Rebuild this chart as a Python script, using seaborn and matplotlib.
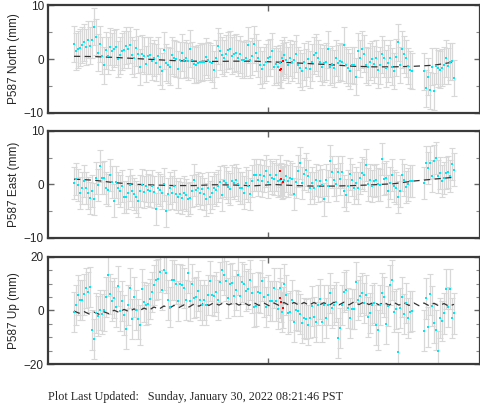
import numpy as np
import matplotlib
matplotlib.use("Agg")
import matplotlib.pyplot as plt
import seaborn as sns
from matplotlib.ticker import MultipleLocator

# observation epochs (days since first sample), gap near day 340-350
days = [0, 2, 4, 6, 8, 10, 12, 14, 16, 18,
        20, 22, 24, 26, 28, 30, 32, 34, 36, 38,
        40, 42, 44, 46, 48, 50, 52, 54, 56, 58,
        60, 62, 64, 66, 68, 70, 72, 74, 76, 78,
        80, 82, 84, 86, 88, 90, 92, 94, 96, 98,
        100, 102, 104, 106, 108, 110, 112, 114, 116, 118,
        120, 122, 124, 126, 128, 130, 132, 134, 136, 138,
        140, 142, 144, 146, 148, 150, 152, 154, 156, 158,
        160, 162, 164, 166, 168, 170, 172, 174, 176, 178,
        180, 182, 184, 186, 188, 190, 192, 194, 196, 198,
        200, 202, 204, 206, 208, 210, 212, 214, 216, 218,
        220, 222, 224, 226, 228, 230, 232, 234, 236, 238,
        240, 242, 244, 246, 248, 250, 252, 254, 256, 258,
        260, 262, 264, 266, 268, 270, 272, 274, 276, 278,
        280, 282, 284, 286, 288, 290, 292, 294, 296, 298,
        300, 302, 304, 306, 308, 310, 312, 314, 316, 318,
        320, 322, 324, 326, 328, 330, 332, 334, 336, 338,
        350, 352, 354, 356, 358, 360, 362, 364, 366, 368,
        370, 372, 374, 376, 378, 380]

north = [2.8, 1.4, 1.8, 2.1, 2.6, 3.1, 2.2, 3.6, 2.5, 3.6,
         6.0, 4.1, 1.2, 2.8, 0.6, -1.2, 1.6, 0.6, 2.3, 1.4,
         1.9, 2.2, 0.0, 0.7, 1.4, 1.7, 2.5, 1.8, 2.6, 0.7,
         0.1, 2.1, 0.9, -1.5, 1.0, 0.6, -0.9, 0.6, 0.7, -0.4,
         0.2, -0.7, 0.6, -1.4, -2.2, 1.6, -0.7, -1.1, -1.4, 0.7,
         0.2, 0.0, -1.9, -0.2, 1.2, -0.2, 0.1, -0.4, 1.9, -0.2,
         -1.0, -1.1, -0.8, -0.5, -0.6, -0.5, 0.4, -0.2, -0.5, -0.8,
         -2.0, 0.1, 2.4, 1.4, 0.7, 0.2, 1.0, 1.6, 1.8, 0.6,
         1.0, 1.2, 0.2, 0.9, -0.1, -0.2, 0.2, 2.6, -0.1, 0.5,
         2.7, 1.2, 0.1, -1.2, -1.9, -1.1, -0.6, 0.2, 0.3, 1.5,
         -1.4, -1.0, -1.4, -0.8, 0.2, 0.7, -0.2, -1.1, 0.2, -0.6,
         -0.1, 1.0, -1.1, -1.7, -2.3, -0.5, -1.6, 0.0, -1.9, -0.6,
         0.7, 1.2, 0.2, -0.6, -1.4, -0.8, -0.5, 1.8, -1.4, -1.0,
         -1.7, 0.2, -0.8, -0.4, -0.6, 2.6, -1.1, -1.6, -2.2, -1.1,
         -1.2, -3.3, 1.4, 0.1, 1.8, 1.0, -1.1, -1.4, -0.5, 0.0,
         -1.0, 0.1, -2.0, -1.2, 0.9, 0.1, -1.7, -0.8, 0.1, -1.4,
         -2.2, 0.3, 3.1, -1.1, 1.8, 0.9, 0.1, -1.3, -2.0, -2.2,
         -2.3, -5.4, -3.3, -5.8, -1.4, -6.0, -1.3, -1.7, -2.0, -1.6,
         -1.2, 0.1, -1.3, -0.5, -0.4, -3.5]

east = [0.2, 1.0, -0.1, -1.6, -0.7, 0.7, -0.6, -1.6, -2.5, -1.2,
        -2.7, 1.2, -0.1, 3.4, 1.2, 1.3, -0.7, -1.1, 1.7, 0.5,
        -3.0, 0.5, -0.6, -1.2, -0.3, -2.3, -2.3, -1.5, -0.1, -1.3,
        -1.8, -2.3, -3.1, -1.2, -0.1, -1.4, -0.3, -1.1, -1.2, -0.3,
        -1.4, -4.5, -0.7, -1.1, -1.5, 0.0, -5.0, -1.8, -0.6, -1.5,
        -0.3, -1.8, -2.3, -1.8, -2.5, -1.5, -2.0, -2.8, -2.5, -1.2,
        0.9, -1.1, -0.6, -1.5, -0.9, -1.7, -2.8, -0.7, -2.3, -1.5,
        -0.6, -1.1, -0.2, 0.5, -2.0, 0.7, 0.2, -0.5, -0.9, 0.7,
        0.2, 0.8, 0.0, -0.6, -0.7, -1.5, 0.2, -0.3, -1.7, 0.7,
        1.7, 1.8, 0.8, 1.7, 0.7, 1.6, 2.5, 0.5, 1.7, 1.3,
        1.0, 1.7, 0.7, 0.8, 0.2, 0.8, 1.6, 0.7, 1.3, 1.0,
        -1.7, 0.5, 2.5, 4.0, 0.2, 2.0, 2.8, 1.6, -0.6, 0.2,
        -0.7, 0.8, -0.3, 0.7, -0.1, -2.8, 0.8, -0.3, 4.4, 2.4,
        0.8, 0.0, 2.4, 1.1, 2.3, -1.2, -2.0, -0.3, 1.9, 0.8,
        -0.7, 0.2, -0.7, 1.2, 2.1, 1.7, 3.6, 0.0, 0.8, -0.3,
        0.7, 0.9, 0.0, -0.1, 4.7, 1.0, 1.3, -1.2, 0.2, 1.7,
        -0.3, -0.7, -2.3, -1.3, 1.7, 0.8, -0.5, 0.0, 0.7, 0.7,
        0.2, 4.1, 3.0, 4.1, 1.6, 4.3, 5.0, 1.5, 2.2, 0.7,
        1.2, 2.2, 2.3, 1.6, 3.9, 2.8]

up = [-0.6, 1.9, 5.7, 4.0, 4.0, 6.0, 8.4, 6.9, 8.8, -7.2,
      -10.5, -0.9, -2.2, 0.3, -1.4, 0.0, 5.0, 13.1, 6.3, 3.4,
      4.8, 1.3, 9.0, -0.2, 3.5, -1.8, -6.8, 2.2, 8.5, -3.1,
      5.0, 0.3, -3.1, -5.5, 7.9, 3.2, 1.9, 2.6, 4.4, 6.9,
      9.4, 11.3, 11.9, 14.4, 7.5, 15.3, 14.0, 3.8, 1.3, 11.5,
      11.5, 9.8, 3.4, 9.8, 9.4, 8.4, 3.8, 14.0, 3.4, 10.0,
      4.8, 5.0, 7.2, 4.0, 1.9, 4.0, 2.2, 5.7, 10.9, 5.9,
      5.3, 6.9, 4.0, 10.7, 15.3, 13.4, 10.9, 4.8, 9.8, 10.3,
      5.3, 7.8, 13.4, 5.3, 10.7, 9.9, 7.4, 7.9, 11.4, 6.4,
      1.4, 1.7, 7.0, 6.7, 11.2, 5.2, 1.2, 5.8, 3.7, 3.7,
      8.3, 3.7, 0.6, 8.3, -0.5, 9.8, 5.8, -1.1, -0.4, 3.9,
      -4.2, 0.2, -0.2, -1.4, -4.8, -2.7, -3.3, -5.4, -2.9, 1.7,
      -2.3, -4.2, 2.1, 4.2, -4.2, 2.1, -2.9, 2.1, 6.4, 0.8,
      2.1, 3.3, -10.2, -6.4, 2.1, 7.0, 7.7, 0.8, -2.7, 0.4,
      0.4, 10.5, 3.9, 5.4, 6.4, 2.7, 5.8, -2.3, -0.8, 2.1,
      2.9, -5.4, -7.3, 2.1, 6.4, 5.2, -5.0, 1.7, 9.5, 11.4,
      -0.4, 0.4, -15.6, 0.8, 5.2, -1.3, 2.7, -2.7, -0.4, -0.2,
      -7.5, 4.5, -6.3, 6.0, 1.7, -4.8, -7.3, -15.1, -2.9, -3.8,
      -1.1, 7.9, 1.2, 7.9, -2.7, -1.1]

# rapid / flagged solutions shown in red
red_days = [206, 207, 209]
north_red = [-2.0, -1.9, -0.4]
east_red = [2.6, 1.0, 0.5]
up_red = [4.8, 3.1, 1.1]

# one-sigma uncertainties (mm)
north_err = 3.4
east_err = 3.0
up_err = 7.5

# model fits
model_days = [0, 20, 40, 60, 80, 100, 120, 140, 160, 180,
              200, 220, 240, 260, 280, 300, 320, 340, 360, 380]
north_model = [0.5, 0.45, 0.3, 0.1, -0.1, -0.3, -0.4, -0.45, -0.4, -0.4,
               -0.55, -0.7, -0.9, -1.1, -1.35, -1.45, -1.45, -1.35, -1.15, -0.55]
east_model = [1.0, 0.8, 0.35, 0.05, -0.1, -0.2, -0.2, -0.05, -0.1, -0.25,
              0.0, -0.2, -0.3, -0.3, -0.2, -0.05, 0.15, 0.65, 1.0, 1.35]
up_model_days = [0, 5, 10, 15, 20, 25, 30, 35, 40, 45, 50, 55, 60, 65, 70, 75,
                 80, 85, 90, 95, 100, 105, 110, 115, 120, 125, 130, 135, 140, 145, 150, 155,
                 160, 165, 170, 175, 180, 185, 190, 195, 200, 205, 210, 215, 220, 225, 230, 235,
                 240, 245, 250, 255, 260, 265, 270, 275, 280, 285, 290, 295, 300, 305, 310, 315,
                 320, 325, 330, 335, 340, 345, 350, 355, 360, 365, 370, 375, 380]
up_model = [-0.2, -1.0, -0.4, -1.3, -0.6, -1.4, -0.5, -1.2,
            0.1, -0.7, 0.4, -0.4, 0.6, -0.2, 0.9, 0.1,
            1.3, 0.5, 1.7, 0.8, 1.9, 1.1, 2.1, 1.3,
            2.4, 1.6, 2.7, 1.9, 2.9, 2.0, 3.0, 2.1,
            3.0, 2.0, 2.9, 1.9, 2.9, 1.9, 2.8, 1.8,
            2.8, 1.9, 3.0, 2.0, 3.0, 2.0, 3.0, 2.0,
            3.0, 2.0, 2.9, 1.9, 3.1, 2.1, 3.1, 2.1,
            3.2, 2.2, 3.2, 2.2, 3.1, 2.1, 3.1, 2.0,
            3.0, 2.0, 2.9, 1.9, 2.8, 1.8, 2.8, 1.8,
            2.7, 1.7, 2.6, 1.6, 2.3]

panels = [
    ("P587 North (mm)", north, north_red, north_err, model_days, north_model, 10, 5),
    ("P587 East (mm)", east, east_red, east_err, model_days, east_model, 10, 5),
    ("P587 Up (mm)", up, up_red, up_err, up_model_days, up_model, 20, 5),
]

sns.set_style("ticks")
plt.rcParams['font.family'] = ['Liberation Sans', 'DejaVu Sans']

fig = plt.figure(figsize=(4.81, 4.04), dpi=100)
positions = [[0.0998, 0.7203, 0.898, 0.2673],
             [0.0998, 0.4109, 0.898, 0.2649],
             [0.0998, 0.0990, 0.898, 0.2649]]

for pos, (label, vals, red_vals, err, mdays, mvals, lim, minor) in zip(positions, panels):
    ax = fig.add_axes(pos)
    ax.errorbar(days, vals, yerr=err, fmt='none', ecolor='#d8d8d8', elinewidth=0.9,
                capsize=2, capthick=0.8, zorder=1)
    ax.errorbar(red_days, red_vals, yerr=err, fmt='none', ecolor='#d8d8d8', elinewidth=0.9,
                capsize=2, capthick=0.8, zorder=1)
    sns.lineplot(x=mdays, y=mvals, ax=ax, color='#333333', lw=0.9, zorder=2)
    ax.lines[-1].set_dashes([5, 3.5])
    sns.scatterplot(x=days, y=vals, ax=ax, color='#00e8f8', marker='s', s=4.5,
                    linewidth=0, zorder=3)
    sns.scatterplot(x=red_days, y=red_vals, ax=ax, color='#ff0000', marker='s', s=4.5,
                    linewidth=0, zorder=4)

    ax.set_xlim(-26, 406)
    ax.set_ylim(-lim, lim)
    ax.yaxis.set_major_locator(MultipleLocator(lim))
    ax.yaxis.set_minor_locator(MultipleLocator(minor))
    ax.set_xticks([194])
    ax.set_xticklabels([])
    ax.tick_params(direction='in', top=True, right=True, length=4, width=1,
                   color='#666666', labelsize=8.5, pad=3)
    ax.tick_params(which='minor', direction='in', right=True, length=3, width=0.8,
                   color='#888888')
    for sp in ax.spines.values():
        sp.set_linewidth(1.6)
        sp.set_color('#3a3a3a')
    ax.set_ylabel(label, fontsize=8.5, labelpad=3)

fig.text(48 / 481, 1 - 397 / 404, "Plot Last Updated:   Sunday, January 30, 2022 08:21:46 PST",
         fontsize=8.7, family=['Liberation Serif', 'DejaVu Serif'], ha='left', va='center')

fig.savefig("out.png", dpi=100)
